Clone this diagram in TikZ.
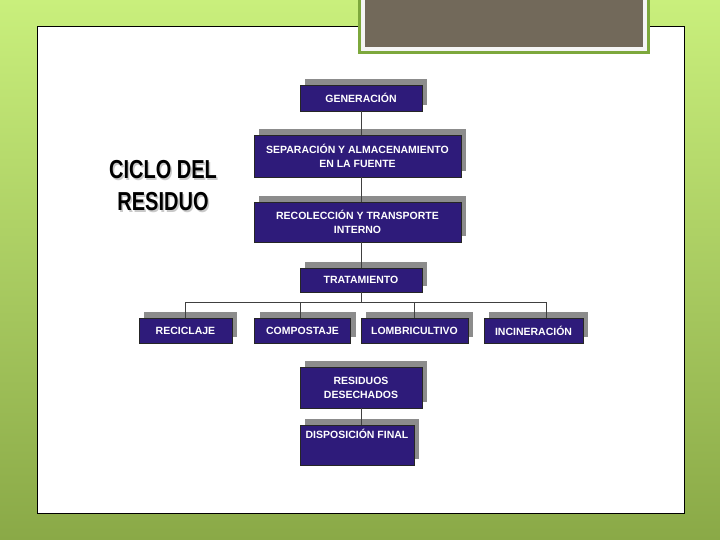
\documentclass[tikz,border=0pt]{standalone}
\usepackage{fontspec}
\setmainfont{Liberation Sans}
\usetikzlibrary{shadows}
\definecolor{boxpurple}{HTML}{2E1B7A}
\definecolor{bgtop}{HTML}{C9EF7C}
\definecolor{bgbot}{HTML}{8AA947}
\definecolor{framegreen}{HTML}{7DA83C}
\definecolor{slategrey}{HTML}{72695A}
\begin{document}
\begin{tikzpicture}[x=1pt,y=-1pt,
  pbox/.style={draw=black!85, line width=0.8pt, fill=boxpurple, text=white,
    font=\fontsize{10.5}{14}\selectfont\bfseries, align=center, inner sep=0pt,
    drop shadow={shadow xshift=5pt, shadow yshift=6pt, fill=black!45, opacity=1}},
  conn/.style={draw=black!75, line width=0.6pt},
  titletext/.style={font=\fontsize{26}{32}\selectfont\bfseries, align=center, inner sep=0pt}]
\useasboundingbox (0,0) rectangle (720,540);
% background
\shade[top color=bgtop, bottom color=bgbot] (0,0) rectangle (720,540);
% white panel
\draw[fill=white, draw=black, line width=1pt] (37,27) rectangle (684,513);
% grey title block
\fill[framegreen] (358,0) rectangle (650,54);
\fill[white!96!black] (361,0) rectangle (647,51);
\fill[slategrey] (365,0) rectangle (643,47);
% title
\node[titletext, text=black!35, opacity=0.6] (titleshadow) at (164.5,187.5)
  {\scalebox{0.77}[1]{CICLO DEL}\\\scalebox{0.77}[1]{RESIDUO}};
\node[titletext, text=black] (title) at (163,186)
  {\scalebox{0.77}[1]{CICLO DEL}\\\scalebox{0.77}[1]{RESIDUO}};
% boxes
\node[pbox, minimum width=122pt, minimum height=26pt] (gen) at (361,98) {GENERACIÓN};
\node[pbox, minimum width=207pt, minimum height=42pt] (sep) at (357.5,156) {SEPARACIÓN Y ALMACENAMIENTO\\EN LA FUENTE};
\node[pbox, minimum width=207pt, minimum height=40pt] (rec) at (357.5,222) {RECOLECCIÓN Y TRANSPORTE\\INTERNO};
\node[pbox, minimum width=122pt, minimum height=24pt] (tra) at (361,280) {TRATAMIENTO};
\node[pbox, minimum width=93pt, minimum height=25pt] (reci) at (185.5,330.5) {RECICLAJE};
\node[pbox, minimum width=96pt, minimum height=25pt] (comp) at (302.5,330.5) {COMPOSTAJE};
\node[pbox, minimum width=107pt, minimum height=25pt] (lomb) at (414.5,330.5) {LOMBRICULTIVO};
\node[pbox, minimum width=99pt, minimum height=25pt] (inci) at (533.5,330.5) {INCINERACIÓN};
\node[pbox, minimum width=122pt, minimum height=41pt] (resid) at (361,387.5) {RESIDUOS\\DESECHADOS};
\node[pbox, minimum width=114pt, minimum height=40pt, text depth=22pt] (disp) at (357,445) {DISPOSICIÓN FINAL};
% connectors
\draw[conn] (gen.south) -- (gen.south |- sep.north);
\draw[conn] (gen.south |- sep.south) -- (gen.south |- rec.north);
\draw[conn] (gen.south |- rec.south) -- (tra.north);
\draw[conn] (tra.south) -- (tra.south |- 0,302);
\draw[conn] (reci.north) |- (tra.south |- 0,302);
\draw[conn] ([xshift=-2.5pt]comp.north) |- (tra.south |- 0,302);
\draw[conn] (lomb.north) |- (tra.south |- 0,302);
\draw[conn] ([xshift=12.5pt]inci.north) |- (tra.south |- 0,302);
\draw[conn] (resid.south) -- (resid.south |- disp.north);
\end{tikzpicture}
\end{document}
